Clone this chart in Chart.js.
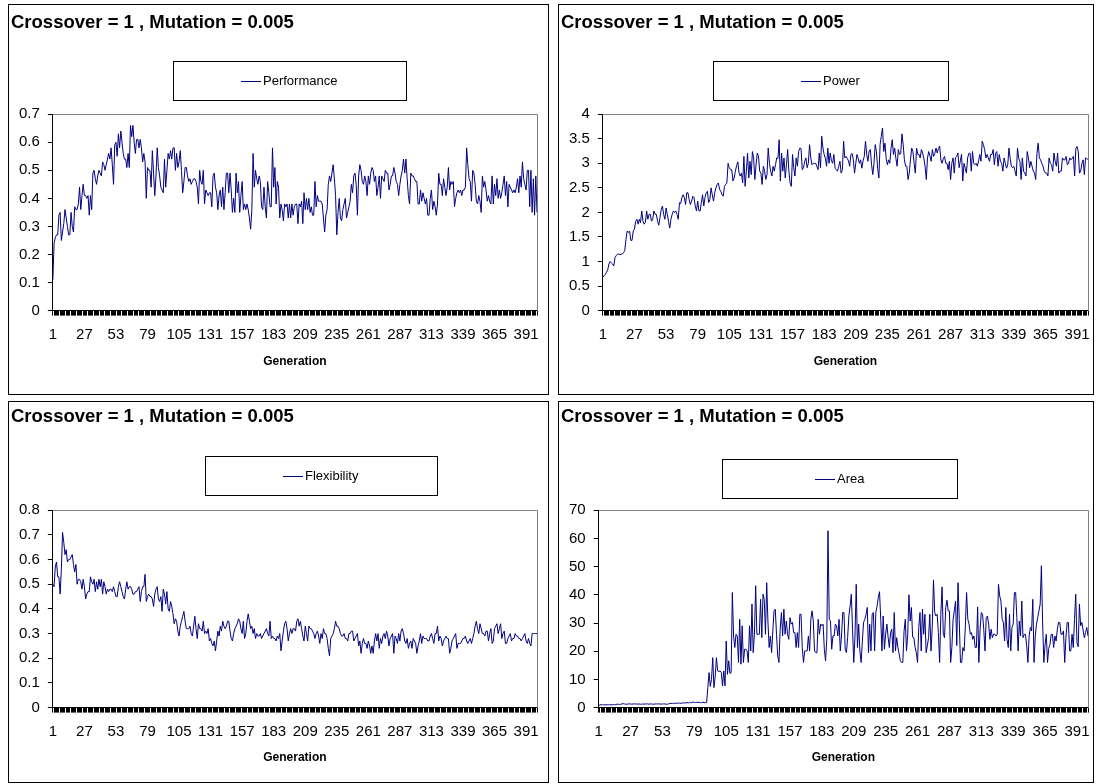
<!DOCTYPE html>
<html>
<head>
<meta charset="utf-8">
<script src="https://cdn.jsdelivr.net/npm/chart.js@4.4.1/dist/chart.umd.min.js"></script>
<style>
  html, body { margin: 0; padding: 0; background: #fff; }
  body { width: 1096px; height: 784px; position: relative; overflow: hidden; }
  .panel { position: absolute; border: 1px solid #000; box-sizing: border-box; background: #fff; }
  .panel canvas { display: block; }
</style>
</head>
<body>
<div class="panel" id="p1" style="left:8px;top:4px;width:541px;height:391px"><canvas id="c1" width="539" height="389"></canvas></div>
<div class="panel" id="p2" style="left:558px;top:4px;width:536px;height:391px"><canvas id="c2" width="534" height="389"></canvas></div>
<div class="panel" id="p3" style="left:8px;top:401px;width:541px;height:382px"><canvas id="c3" width="539" height="380"></canvas></div>
<div class="panel" id="p4" style="left:558px;top:401px;width:536px;height:382px"><canvas id="c4" width="534" height="380"></canvas></div>
<script>
const titleText = "Crossover = 1 , Mutation = 0.005"
const axisTitle = "Generation"
const generations = Array.from({ length: 400 }, (_, i) => String(i + 1))
const tickLabels = ["1", "27", "53", "79", "105", "131", "157", "183", "209", "235", "261", "287", "313", "339", "365", "391"]

const performance = [
  0.11, 0.24, 0.26, 0.27, 0.27, 0.34, 0.35, 0.25, 0.28, 0.31,
  0.36, 0.33, 0.30, 0.27, 0.27, 0.35, 0.30, 0.28, 0.37, 0.36,
  0.36, 0.38, 0.44, 0.36, 0.41, 0.45, 0.41, 0.41, 0.40, 0.41,
  0.34, 0.41, 0.36, 0.49, 0.50, 0.47, 0.45, 0.48, 0.50, 0.49,
  0.48, 0.53, 0.52, 0.50, 0.52, 0.54, 0.56, 0.54, 0.58, 0.52,
  0.45, 0.59, 0.60, 0.55, 0.63, 0.58, 0.64, 0.60, 0.56, 0.54,
  0.54, 0.51, 0.56, 0.51, 0.66, 0.62, 0.66, 0.60, 0.56, 0.61,
  0.61, 0.58, 0.61, 0.58, 0.53, 0.56, 0.53, 0.40, 0.51, 0.50,
  0.50, 0.44, 0.57, 0.49, 0.41, 0.48, 0.58, 0.51, 0.48, 0.44,
  0.43, 0.42, 0.54, 0.44, 0.50, 0.56, 0.54, 0.57, 0.54, 0.58,
  0.58, 0.50, 0.56, 0.51, 0.53, 0.57, 0.50, 0.42, 0.46, 0.51,
  0.51, 0.48, 0.46, 0.47, 0.45, 0.46, 0.47, 0.47, 0.46, 0.44,
  0.38, 0.50, 0.46, 0.45, 0.50, 0.38, 0.43, 0.42, 0.41, 0.42,
  0.42, 0.37, 0.48, 0.49, 0.44, 0.42, 0.36, 0.41, 0.43, 0.37,
  0.44, 0.36, 0.42, 0.49, 0.49, 0.42, 0.49, 0.43, 0.35, 0.40,
  0.35, 0.49, 0.42, 0.46, 0.35, 0.41, 0.46, 0.36, 0.38, 0.36,
  0.38, 0.36, 0.33, 0.29, 0.36, 0.56, 0.44, 0.50, 0.47, 0.45,
  0.48, 0.46, 0.37, 0.36, 0.44, 0.37, 0.33, 0.46, 0.42, 0.37,
  0.37, 0.58, 0.44, 0.51, 0.38, 0.46, 0.44, 0.33, 0.38, 0.36,
  0.32, 0.38, 0.37, 0.38, 0.33, 0.38, 0.33, 0.38, 0.34, 0.37,
  0.38, 0.38, 0.31, 0.38, 0.37, 0.39, 0.31, 0.42, 0.36, 0.40,
  0.36, 0.40, 0.35, 0.37, 0.34, 0.34, 0.46, 0.37, 0.41, 0.39,
  0.39, 0.39, 0.38, 0.33, 0.28, 0.34, 0.36, 0.45, 0.48, 0.46,
  0.49, 0.52, 0.47, 0.41, 0.27, 0.35, 0.40, 0.33, 0.32, 0.36,
  0.38, 0.40, 0.33, 0.35, 0.37, 0.39, 0.45, 0.42, 0.48, 0.49,
  0.45, 0.34, 0.48, 0.52, 0.50, 0.46, 0.45, 0.48, 0.46, 0.41,
  0.48, 0.45, 0.49, 0.51, 0.50, 0.46, 0.48, 0.41, 0.44, 0.48,
  0.40, 0.48, 0.47, 0.46, 0.50, 0.49, 0.49, 0.43, 0.45, 0.48,
  0.48, 0.51, 0.49, 0.46, 0.45, 0.41, 0.45, 0.48, 0.50, 0.54,
  0.49, 0.54, 0.47, 0.41, 0.38, 0.49, 0.48, 0.48, 0.47, 0.46,
  0.46, 0.38, 0.38, 0.43, 0.39, 0.42, 0.40, 0.38, 0.40, 0.34,
  0.34, 0.40, 0.43, 0.36, 0.39, 0.37, 0.34, 0.38, 0.49, 0.45,
  0.45, 0.41, 0.47, 0.44, 0.41, 0.44, 0.51, 0.43, 0.46, 0.45,
  0.46, 0.37, 0.40, 0.42, 0.43, 0.42, 0.43, 0.41, 0.43, 0.43,
  0.44, 0.58, 0.52, 0.47, 0.46, 0.39, 0.50, 0.49, 0.45, 0.39,
  0.38, 0.41, 0.39, 0.35, 0.48, 0.44, 0.46, 0.43, 0.39, 0.41,
  0.39, 0.38, 0.48, 0.38, 0.45, 0.41, 0.47, 0.40, 0.43, 0.40,
  0.42, 0.45, 0.48, 0.41, 0.46, 0.37, 0.45, 0.44, 0.43, 0.42,
  0.43, 0.42, 0.44, 0.47, 0.42, 0.48, 0.44, 0.53, 0.47, 0.45,
  0.43, 0.50, 0.50, 0.37, 0.50, 0.35, 0.47, 0.34, 0.48, 0.35
]

const power = [
  0.68, 0.71, 0.74, 0.78, 0.83, 0.95, 1.00, 0.97, 0.95, 0.91,
  1.08, 1.12, 1.15, 1.15, 1.14, 1.15, 1.15, 1.18, 1.22, 1.45,
  1.62, 1.59, 1.62, 1.43, 1.43, 1.62, 1.66, 1.82, 1.86, 1.76,
  1.86, 1.79, 2.03, 1.82, 1.76, 1.80, 2.03, 1.86, 1.96, 1.96,
  1.82, 1.86, 2.03, 1.96, 1.96, 1.82, 1.74, 1.90, 2.06, 2.13,
  1.96, 1.86, 2.09, 1.96, 1.82, 1.68, 1.86, 1.96, 2.03, 2.00,
  2.03, 1.96, 1.86, 2.20, 2.18, 2.30, 2.36, 2.30, 2.16, 2.40,
  2.40, 2.26, 2.16, 2.23, 2.33, 2.30, 2.13, 2.03, 2.23, 2.03,
  2.03, 2.20, 2.36, 2.13, 2.30, 2.40, 2.43, 2.20, 2.26, 2.50,
  2.36, 2.23, 2.40, 2.50, 2.57, 2.60, 2.47, 2.43, 2.36, 2.33,
  2.53, 2.57, 2.60, 3.00, 2.91, 2.87, 2.87, 2.64, 2.70, 2.84,
  2.95, 3.03, 2.80, 2.74, 2.80, 2.60, 3.14, 2.53, 2.84, 3.21,
  2.70, 3.04, 2.77, 3.24, 3.11, 2.67, 2.97, 3.21, 3.14, 2.84,
  2.80, 2.57, 2.94, 2.84, 2.67, 2.77, 3.31, 3.00, 2.84, 2.74,
  2.94, 2.84, 2.97, 3.11, 3.10, 3.48, 2.64, 3.21, 2.84, 3.11,
  2.70, 2.97, 3.28, 2.84, 2.60, 2.53, 3.18, 2.91, 2.74, 3.11,
  2.94, 3.24, 3.31, 3.30, 2.87, 2.91, 3.04, 3.11, 2.91, 3.00,
  3.38, 3.11, 2.97, 3.00, 3.00, 3.00, 2.94, 2.87, 3.21, 2.91,
  3.55, 3.31, 3.18, 3.10, 2.94, 3.31, 3.00, 3.21, 3.05, 3.00,
  3.18, 2.90, 2.87, 2.84, 2.94, 3.04, 2.80, 2.87, 3.45, 3.11,
  3.14, 3.10, 3.05, 2.94, 3.18, 3.20, 3.07, 2.80, 3.00, 3.18,
  3.10, 3.00, 3.07, 2.90, 3.05, 3.14, 3.45, 3.18, 3.04, 3.25,
  3.28, 2.97, 2.77, 3.00, 3.38, 3.24, 2.90, 2.70, 3.38, 3.55,
  3.72, 3.24, 3.41, 3.10, 2.97, 3.07, 3.00, 3.30, 3.48, 3.18,
  3.31, 3.10, 2.94, 3.28, 3.18, 3.20, 3.60, 3.38, 3.07, 2.94,
  2.94, 2.67, 2.80, 3.07, 3.31, 3.24, 3.00, 2.80, 3.31, 3.18,
  3.18, 3.11, 3.28, 3.21, 3.10, 2.94, 2.67, 3.11, 3.24, 3.15,
  3.04, 3.28, 3.14, 3.20, 3.31, 3.21, 3.30, 3.35, 3.07, 3.00,
  3.10, 3.14, 3.00, 3.00, 2.87, 3.04, 2.67, 3.00, 3.11, 2.80,
  3.11, 3.14, 3.21, 2.91, 3.05, 3.18, 2.64, 3.00, 2.90, 2.80,
  3.11, 3.20, 3.21, 2.84, 3.24, 3.00, 2.97, 3.00, 2.94, 3.05,
  3.18, 3.04, 3.45, 3.38, 3.28, 3.11, 3.18, 3.11, 3.04, 3.18,
  3.18, 3.28, 2.97, 3.20, 3.24, 2.94, 3.18, 3.04, 3.00, 2.84,
  3.11, 3.00, 2.90, 2.97, 3.31, 3.10, 2.94, 2.91, 2.94, 2.84,
  2.74, 3.31, 3.10, 3.04, 2.67, 3.11, 2.84, 2.80, 2.74, 3.24,
  3.11, 2.91, 3.04, 2.94, 2.84, 2.80, 2.67, 3.20, 3.41, 3.11,
  3.07, 3.00, 2.94, 2.84, 2.80, 2.80, 2.74, 3.11, 3.00, 2.97,
  2.84, 3.21, 3.04, 2.94, 3.21, 2.80, 2.84, 2.84, 3.11, 3.07,
  3.07, 3.14, 2.97, 3.00, 3.11, 3.07, 3.10, 3.14, 2.74, 3.30,
  3.34, 3.24, 2.80, 2.84, 3.00, 3.07, 2.77, 3.11, 3.10, 3.07
]

const flexibility = [
  0.50, 0.49, 0.57, 0.59, 0.53, 0.53, 0.46, 0.56, 0.71, 0.67,
  0.62, 0.64, 0.59, 0.60, 0.60, 0.61, 0.62, 0.58, 0.55, 0.58,
  0.50, 0.52, 0.52, 0.51, 0.48, 0.52, 0.49, 0.44, 0.46, 0.47,
  0.47, 0.53, 0.51, 0.50, 0.52, 0.47, 0.51, 0.48, 0.52, 0.49,
  0.52, 0.46, 0.51, 0.49, 0.46, 0.48, 0.47, 0.48, 0.48, 0.47,
  0.49, 0.47, 0.45, 0.45, 0.49, 0.51, 0.49, 0.47, 0.45, 0.44,
  0.48, 0.51, 0.48, 0.49, 0.49, 0.48, 0.46, 0.46, 0.47, 0.47,
  0.48, 0.49, 0.43, 0.47, 0.49, 0.49, 0.54, 0.43, 0.45, 0.46,
  0.45, 0.45, 0.44, 0.41, 0.46, 0.48, 0.49, 0.44, 0.43, 0.45,
  0.39, 0.48, 0.46, 0.42, 0.47, 0.40, 0.39, 0.43, 0.41, 0.38,
  0.34, 0.36, 0.35, 0.31, 0.29, 0.33, 0.35, 0.37, 0.39, 0.35,
  0.32, 0.32, 0.32, 0.33, 0.30, 0.29, 0.33, 0.37, 0.32, 0.28,
  0.34, 0.32, 0.32, 0.31, 0.35, 0.30, 0.31, 0.30, 0.32, 0.27,
  0.28, 0.26, 0.25, 0.27, 0.23, 0.27, 0.31, 0.29, 0.33, 0.31,
  0.35, 0.33, 0.32, 0.33, 0.35, 0.35, 0.31, 0.28, 0.27, 0.30,
  0.32, 0.33, 0.34, 0.36, 0.35, 0.32, 0.30, 0.35, 0.28, 0.30,
  0.35, 0.38, 0.35, 0.32, 0.33, 0.30, 0.32, 0.28, 0.30, 0.29,
  0.29, 0.30, 0.28, 0.29, 0.30, 0.31, 0.32, 0.30, 0.29, 0.35,
  0.28, 0.29, 0.28, 0.28, 0.27, 0.29, 0.28, 0.30, 0.23, 0.27,
  0.31, 0.34, 0.35, 0.32, 0.27, 0.30, 0.32, 0.30, 0.32, 0.32,
  0.31, 0.35, 0.36, 0.33, 0.35, 0.32, 0.29, 0.27, 0.33, 0.30,
  0.27, 0.33, 0.32, 0.32, 0.31, 0.30, 0.28, 0.30, 0.31, 0.29,
  0.26, 0.30, 0.28, 0.32, 0.30, 0.30, 0.28, 0.24, 0.21, 0.28,
  0.29, 0.30, 0.32, 0.35, 0.33, 0.33, 0.32, 0.30, 0.29, 0.29,
  0.30, 0.28, 0.28, 0.27, 0.30, 0.30, 0.31, 0.31, 0.27, 0.28,
  0.29, 0.30, 0.25, 0.27, 0.22, 0.26, 0.28, 0.26, 0.26, 0.24,
  0.27, 0.25, 0.22, 0.25, 0.22, 0.27, 0.30, 0.27, 0.30, 0.24,
  0.28, 0.26, 0.29, 0.30, 0.28, 0.31, 0.29, 0.25, 0.28, 0.29,
  0.30, 0.22, 0.29, 0.28, 0.26, 0.30, 0.27, 0.31, 0.32, 0.30,
  0.27, 0.26, 0.28, 0.24, 0.26, 0.27, 0.24, 0.28, 0.27, 0.26,
  0.22, 0.25, 0.27, 0.30, 0.26, 0.29, 0.28, 0.28, 0.28, 0.27,
  0.27, 0.29, 0.30, 0.28, 0.26, 0.30, 0.30, 0.33, 0.27, 0.29,
  0.28, 0.25, 0.27, 0.28, 0.29, 0.28, 0.28, 0.22, 0.24, 0.27,
  0.28, 0.29, 0.30, 0.24, 0.26, 0.26, 0.26, 0.27, 0.28, 0.28,
  0.29, 0.27, 0.26, 0.27, 0.28, 0.26, 0.28, 0.30, 0.33, 0.35,
  0.32, 0.30, 0.34, 0.32, 0.30, 0.30, 0.29, 0.31, 0.31, 0.27,
  0.30, 0.32, 0.26, 0.27, 0.32, 0.33, 0.34, 0.30, 0.32, 0.34,
  0.28, 0.30, 0.31, 0.26, 0.26, 0.28, 0.29, 0.30, 0.27, 0.28,
  0.28, 0.30, 0.29, 0.29, 0.28, 0.28, 0.27, 0.28, 0.29, 0.30,
  0.27, 0.26, 0.28, 0.26, 0.25, 0.30, 0.30, 0.30, 0.30, 0.30
]

const area = [
  0.6, 1.0, 1.0, 1.0, 1.0, 1.0, 1.0, 1.0, 1.0, 1.0,
  1.0, 1.0, 1.1, 1.0, 1.1, 1.2, 1.2, 1.1, 1.2, 1.3,
  1.4, 1.3, 1.2, 1.2, 1.3, 1.3, 1.3, 1.2, 1.3, 1.3,
  1.3, 1.3, 1.2, 1.3, 1.2, 1.2, 1.3, 1.2, 1.3, 1.3,
  1.3, 1.2, 1.3, 1.3, 1.2, 1.2, 1.3, 1.3, 1.3, 1.3,
  1.3, 1.2, 1.3, 1.3, 1.3, 1.2, 1.2, 1.3, 1.5, 1.5,
  1.5, 1.5, 1.5, 1.6, 1.5, 1.6, 1.6, 1.5, 1.6, 1.7,
  1.6, 1.7, 1.8, 1.6, 1.9, 1.7, 1.8, 2.0, 1.8, 1.8,
  1.9, 1.8, 1.9, 1.7, 1.8, 1.9, 1.7, 1.8, 1.7, 7.1,
  12.4, 7.5, 10.0, 17.7, 7.1, 11.0, 17.7, 13.0, 12.8, 13.0,
  12.4, 7.7, 13.0, 7.7, 23.6, 11.8, 16.6, 12.1, 12.4, 40.8,
  25.4, 21.3, 26.0, 25.4, 16.0, 31.3, 15.4, 29.0, 16.0, 20.7,
  20.7, 20.1, 16.0, 29.0, 20.1, 36.7, 19.5, 26.0, 43.2, 26.0,
  26.0, 26.0, 38.4, 24.8, 40.2, 38.4, 26.0, 44.3, 30.7, 21.3,
  25.4, 19.5, 27.2, 34.3, 34.9, 26.0, 18.3, 16.0, 27.8, 33.7,
  25.4, 34.9, 26.0, 30.7, 26.0, 24.2, 31.9, 29.6, 30.2, 26.6,
  26.6, 21.3, 26.6, 21.3, 33.1, 33.1, 21.3, 16.0, 20.1, 20.1,
  20.1, 25.4, 20.1, 31.3, 34.3, 30.7, 20.1, 19.5, 19.5, 31.3,
  26.0, 29.6, 29.0, 29.6, 20.7, 16.6, 24.2, 62.7, 31.3, 30.7,
  20.7, 25.4, 25.4, 29.6, 29.0, 25.4, 31.3, 20.1, 25.4, 33.7,
  33.7, 20.7, 19.5, 24.8, 32.5, 36.0, 40.2, 27.8, 16.0, 25.4,
  43.7, 21.3, 29.6, 20.1, 16.0, 23.6, 30.2, 31.3, 33.0, 35.5,
  19.5, 29.6, 20.1, 33.1, 33.7, 20.1, 33.7, 36.0, 39.0, 41.1,
  31.3, 20.1, 32.5, 20.7, 26.0, 29.6, 25.0, 21.3, 26.6, 27.8,
  19.5, 33.7, 20.1, 24.8, 21.3, 19.0, 16.6, 16.0, 16.0, 27.0,
  31.3, 20.1, 26.0, 40.0, 30.7, 35.5, 25.0, 24.8, 21.3, 19.5,
  16.0, 28.4, 33.7, 20.1, 34.9, 26.0, 33.1, 19.5, 22.0, 24.8,
  33.1, 20.1, 28.4, 45.3, 33.7, 32.5, 33.1, 26.6, 16.0, 33.1,
  42.8, 26.0, 24.8, 35.5, 38.1, 34.3, 34.3, 16.0, 21.3, 31.3,
  34.3, 37.8, 22.0, 44.3, 31.3, 16.0, 16.0, 21.3, 20.1, 29.0,
  40.8, 31.3, 29.6, 26.0, 26.6, 24.2, 25.4, 21.3, 21.3, 35.7,
  16.0, 27.8, 33.7, 33.1, 27.8, 20.1, 31.9, 32.5, 29.6, 24.2,
  27.8, 24.8, 26.0, 26.0, 25.4, 26.0, 43.7, 39.6, 37.8, 31.3,
  30.2, 23.6, 35.5, 24.2, 21.3, 33.1, 20.1, 28.4, 29.6, 40.8,
  40.8, 31.9, 20.1, 30.7, 25.4, 37.8, 24.8, 26.0, 26.0, 21.9,
  16.0, 25.4, 28.4, 27.2, 38.4, 16.0, 25.4, 29.6, 31.9, 34.3,
  36.7, 50.3, 30.0, 16.0, 22.4, 26.0, 16.0, 21.0, 22.4, 26.0,
  26.0, 21.3, 25.4, 23.6, 27.8, 30.2, 30.2, 26.0, 26.0, 27.2,
  16.0, 24.8, 30.2, 30.2, 20.1, 20.1, 26.0, 21.3, 31.3, 40.2,
  23.0, 21.6, 36.7, 29.0, 30.2, 27.5, 24.8, 26.6, 28.4, 25.4
]

const fontFamily = '"Liberation Sans", Arial, sans-serif'
const lineColor = "#000080"

// grey frame on top/right of plot + Excel style legend box
const excelFrame = {
  id: "excelFrame",
  beforeDatasetsDraw(chart) {
    const { ctx, chartArea: a } = chart
    ctx.save()
    ctx.strokeStyle = "#808080"
    ctx.lineWidth = 1
    ctx.beginPath()
    ctx.moveTo(Math.round(a.left), Math.round(a.top) + 0.5)
    ctx.lineTo(Math.round(a.right) + 0.5, Math.round(a.top) + 0.5)
    ctx.lineTo(Math.round(a.right) + 0.5, Math.round(a.bottom))
    ctx.stroke()
    ctx.restore()
  },
  afterDraw(chart, args, opts) {
    const { ctx } = chart
    const b = opts.box
    const label = chart.data.datasets[0].label
    ctx.save()
    ctx.strokeStyle = "#000"
    ctx.lineWidth = 1
    ctx.strokeRect(b.x + 0.5, b.y + 0.5, b.w, b.h)
    ctx.font = "13px " + fontFamily
    const tw = ctx.measureText(label).width
    const x0 = Math.round(b.x + (b.w - (22 + tw)) / 2)
    const cy = Math.round(b.y + b.h / 2) + 0.5
    ctx.strokeStyle = lineColor
    ctx.beginPath()
    ctx.moveTo(x0, cy)
    ctx.lineTo(x0 + 20, cy)
    ctx.stroke()
    ctx.fillStyle = "#000"
    ctx.textBaseline = "middle"
    ctx.fillText(label, x0 + 22, cy)
    ctx.restore()
  }
}

const makeChart = (id, label, values, yMax, yStep, p) => {
  const config = {
    type: "line",
    data: {
      labels: generations,
      datasets: [{
        label: label,
        data: values,
        borderColor: lineColor,
        borderWidth: 1,
        pointRadius: 0,
        tension: 0,
        fill: false
      }]
    },
    options: {
      responsive: false,
      animation: false,
      layout: { padding: { left: 2, right: p.right, top: 0, bottom: p.bottom } },
      plugins: {
        legend: { display: false },
        tooltip: { enabled: false },
        title: {
          display: true,
          text: titleText,
          align: "start",
          color: "#000",
          font: { family: fontFamily, size: 18.5, weight: "bold" },
          padding: { top: p.titleTop, bottom: p.titleBottom }
        },
        excelFrame: { box: p.box }
      },
      scales: {
        x: {
          offset: false,
          grid: { display: true, drawOnChartArea: false, drawTicks: true, tickLength: 5, color: "#000", offset: false },
          border: { color: "#000", width: 1 },
          ticks: {
            autoSkip: false,
            maxRotation: 0,
            minRotation: 0,
            padding: 10,
            color: "#000",
            font: { family: fontFamily, size: 15 },
            callback: function (v) {
              const g = this.getLabelForValue(v)
              return tickLabels.includes(g) ? g : ""
            }
          },
          title: {
            display: true,
            text: axisTitle,
            color: "#000",
            font: { family: fontFamily, size: 12, weight: "bold" },
            padding: { top: p.axisPad, bottom: 0 }
          },
          afterFit: (scale) => {
            scale.paddingLeft = 0
            scale.paddingRight = 0
          }
        },
        y: {
          min: 0,
          max: yMax,
          grid: { display: true, drawOnChartArea: false, drawTicks: true, tickLength: 5, color: "#000" },
          border: { color: "#000", width: 1 },
          ticks: {
            stepSize: yStep,
            padding: 8,
            color: "#000",
            font: { family: fontFamily, size: 15 },
            callback: (v) => String(Math.round(v * 100) / 100)
          }
        }
      }
    },
    plugins: [excelFrame]
  }
  return new Chart(document.getElementById(id), config)
}

makeChart("c1", "Performance", performance, 0.7, 0.1,
  { right: 11, bottom: 25, axisPad: 1, titleTop: 7, titleBottom: 80, box: { x: 164, y: 56, w: 233, h: 39 } })
makeChart("c2", "Power", power, 4, 0.5,
  { right: 5, bottom: 25, axisPad: 1, titleTop: 7, titleBottom: 80, box: { x: 154, y: 56, w: 235, h: 39 } })
makeChart("c3", "Flexibility", flexibility, 0.8, 0.1,
  { right: 11, bottom: 17, axisPad: 0, titleTop: 4, titleBottom: 82, box: { x: 196, y: 54, w: 232, h: 39 } })
makeChart("c4", "Area", area, 70, 10,
  { right: 5, bottom: 17, axisPad: 0, titleTop: 4, titleBottom: 82, box: { x: 163, y: 57, w: 235, h: 39 } })
</script>
</body>
</html>
